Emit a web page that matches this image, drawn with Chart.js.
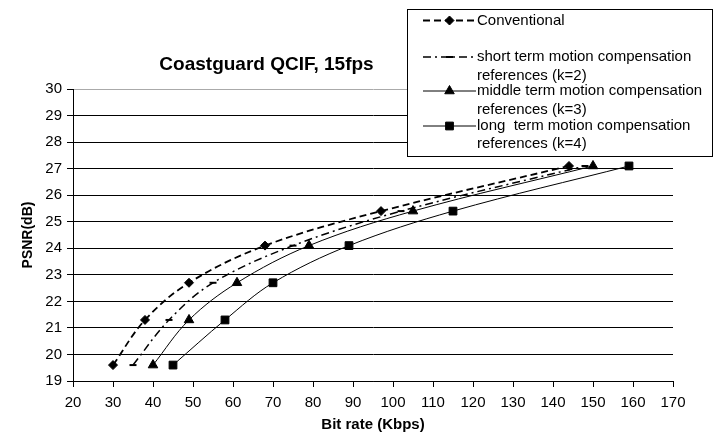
<!DOCTYPE html>
<html>
<head>
<meta charset="utf-8">
<title>Coastguard QCIF, 15fps</title>
<script src="https://cdn.jsdelivr.net/npm/chart.js@4.4.1/dist/chart.umd.min.js"></script>
<style>
  html, body { margin: 0; padding: 0; background: #fff; }
  #wrap { width: 716px; height: 440px; }
</style>
</head>
<body>
<div id="wrap"><canvas id="psnrChart" width="716" height="440"></canvas></div>
<script>
// values
const psnr = [19.6, 21.3, 22.7, 24.1, 25.4, 27.1];
const rateConventional = [30, 38, 49, 68, 97, 144];
const rateShort = [35, 44, 55, 75, 102, 148];
const rateMiddle = [40, 49, 61, 79, 105, 150];
const rateLong = [45, 58, 70, 89, 115, 159];

const seriesNames = [
    ['Conventional'],
    ['short term motion compensation', 'references (k=2)'],
    ['middle term motion compensation', 'references (k=3)'],
    ['long  term motion compensation', 'references (k=4)']
];

const FONT = "'Liberation Sans', Arial, sans-serif";

function points(rates) {
    return rates.map(function (r, i) { return { x: r, y: psnr[i] }; });
}

// title + boxed legend, drawn like the Excel original
const excelExtras = {
    id: 'excelExtras',
    afterDraw: function (chart) {
        const ctx = chart.ctx;
        ctx.save();
        ctx.fillStyle = '#000';
        ctx.font = 'bold 19px ' + FONT;
        ctx.textAlign = 'center';
        ctx.textBaseline = 'middle';
        ctx.fillText('Coastguard QCIF, 15fps', 266.5, 65);

        // legend box
        ctx.fillStyle = '#fff';
        ctx.fillRect(407.5, 9.5, 305, 147);
        ctx.strokeStyle = '#000';
        ctx.lineWidth = 1;
        ctx.strokeRect(407.5, 9.5, 305, 147);

        const rows = [[20.5], [57, 76], [91, 110], [126, 144]];
        ctx.font = '15px ' + FONT;
        ctx.textAlign = 'left';
        chart.data.datasets.forEach(function (ds, i) {
            const y = rows[i][0];
            ctx.strokeStyle = '#000';
            ctx.lineWidth = ds.borderWidth;
            ctx.setLineDash(ds.borderDash || []);
            ctx.beginPath();
            ctx.moveTo(423, y);
            ctx.lineTo(476, y);
            ctx.stroke();
            ctx.setLineDash([]);
            ctx.fillStyle = '#000';
            ctx.lineWidth = ds.pointBorderWidth;
            Chart.helpers.drawPoint(ctx, {
                pointStyle: ds.pointStyle,
                radius: ds.pointRadius,
                borderWidth: ds.pointBorderWidth,
                rotation: 0
            }, 449.5, y);
            ctx.fillStyle = '#000';
            seriesNames[i].forEach(function (line, j) {
                ctx.fillText(line, 477, rows[i][j]);
            });
        });
        ctx.restore();
    }
};

new Chart(document.getElementById('psnrChart').getContext('2d'), {
    type: 'line',
    data: {
        datasets: [{
            label: seriesNames[0].join(' '),
            data: points(rateConventional),
            borderColor: '#000',
            borderWidth: 1.8,
            borderDash: [7, 4],
            pointStyle: 'rectRot',
            pointRadius: 4.5,
            pointBorderWidth: 1,
            pointBackgroundColor: '#000',
            pointBorderColor: '#000',
            tension: 0.35
        }, {
            label: seriesNames[1].join(' '),
            data: points(rateShort),
            borderColor: '#000',
            borderWidth: 1.5,
            borderDash: [8, 4, 2, 4],
            pointStyle: 'line',
            pointRadius: 3.5,
            pointBorderWidth: 2,
            pointBackgroundColor: '#000',
            pointBorderColor: '#000',
            tension: 0.35
        }, {
            label: seriesNames[2].join(' '),
            data: points(rateMiddle),
            borderColor: '#000',
            borderWidth: 1,
            pointStyle: 'triangle',
            pointRadius: 5.5,
            pointBorderWidth: 1,
            pointBackgroundColor: '#000',
            pointBorderColor: '#000',
            tension: 0.35
        }, {
            label: seriesNames[3].join(' '),
            data: points(rateLong),
            borderColor: '#000',
            borderWidth: 1,
            pointStyle: 'rect',
            pointRadius: 5.5,
            pointBorderWidth: 1,
            pointBackgroundColor: '#000',
            pointBorderColor: '#000',
            tension: 0.35
        }]
    },
    options: {
        responsive: false,
        animation: false,
        layout: { padding: { top: 89, right: 43, left: 0, bottom: 0 } },
        plugins: {
            legend: { display: false },
            title: { display: false },
            tooltip: { enabled: false }
        },
        scales: {
            x: {
                type: 'linear',
                min: 20,
                max: 170,
                ticks: { stepSize: 10, color: '#000', padding: 7, font: { family: FONT, size: 15 } },
                grid: { drawOnChartArea: false, drawTicks: true, tickLength: 6, tickColor: '#000' },
                border: { display: true, color: '#000', width: 1 },
                title: {
                    display: true,
                    text: 'Bit rate (Kbps)',
                    color: '#000',
                    font: { family: FONT, size: 15, weight: 'bold' },
                    padding: { top: 0, bottom: 6 }
                },
                afterFit: function (scale) { scale.height = 59; }
            },
            y: {
                type: 'linear',
                min: 19,
                max: 30,
                ticks: { stepSize: 1, color: '#000', padding: 5, font: { family: FONT, size: 15 } },
                grid: {
                    color: function (c) { return c.tick && c.tick.value === 30 ? '#aaa' : '#000'; },
                    tickColor: '#000',
                    tickLength: 6,
                    lineWidth: 1
                },
                border: { display: true, color: '#000', width: 1 },
                title: {
                    display: true,
                    text: 'PSNR(dB)',
                    color: '#000',
                    font: { family: FONT, size: 14, weight: 'bold' },
                    padding: { top: 20, bottom: 0 }
                },
                afterFit: function (scale) { scale.width = 73; }
            }
        }
    },
    plugins: [excelExtras]
});
</script>
</body>
</html>
